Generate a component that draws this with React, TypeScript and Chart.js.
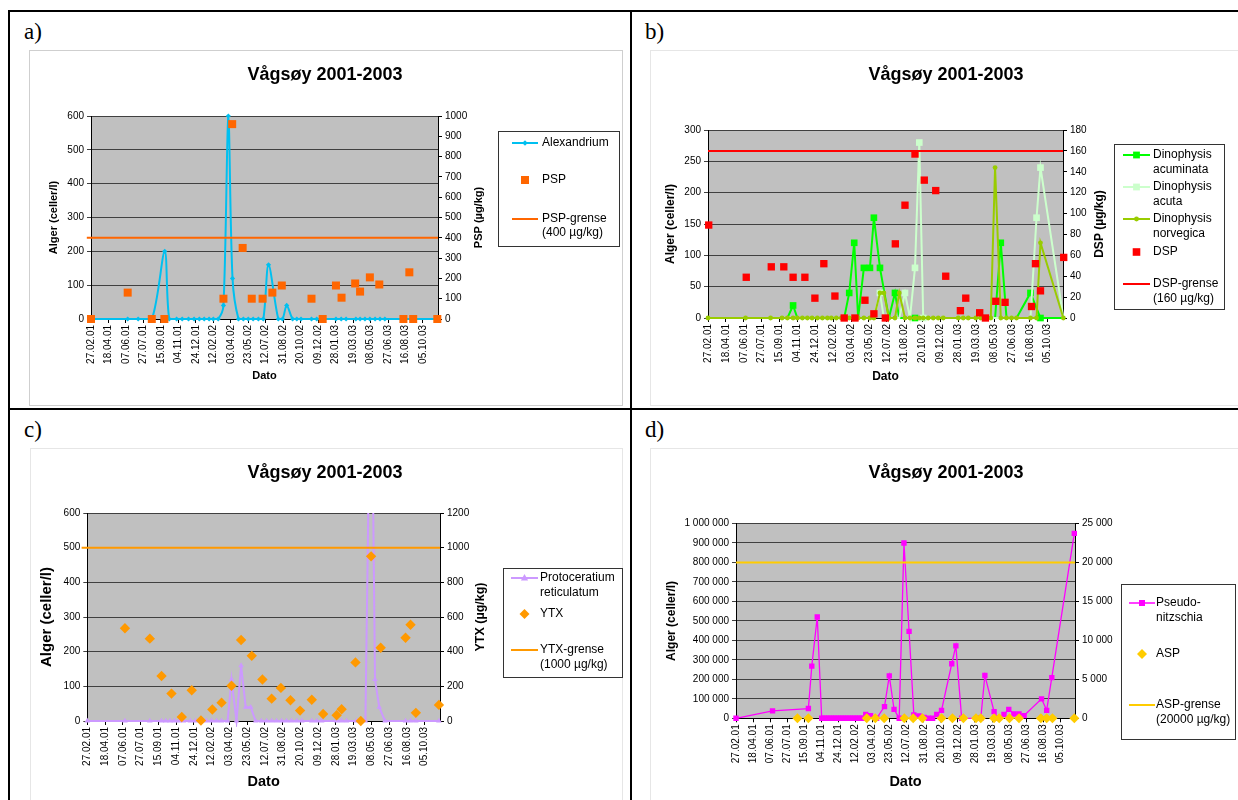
import React, { useEffect, useRef } from 'react';
import { Chart, registerables } from 'chart.js';

Chart.register(...registerables);

const SANS = '"Liberation Sans", Arial, Helvetica, sans-serif';
const SERIF = '"Liberation Serif", "Times New Roman", serif';
Chart.defaults.font.family = SANS;
Chart.defaults.color = '#000';

// ---------- shared text / axis data ----------
const chartTitle = 'Vågsøy 2001-2003';
const algaeAxisTitle = 'Alger (celler/l)';
const dateAxisTitle = 'Dato';
const dateLabels = [
  '27.02.01', '18.04.01', '07.06.01', '27.07.01', '15.09.01', '04.11.01', '24.12.01',
  '12.02.02', '03.04.02', '23.05.02', '12.07.02', '31.08.02', '20.10.02', '09.12.02',
  '28.01.03', '19.03.03', '08.05.03', '27.06.03', '16.08.03', '05.10.03',
];
const dayMax = 993; // days after 27.02.01
const dayStep = 50;

// ---------- panel a: Alexandrium / PSP ----------
const alexDays = [0, 105, 135, 174, 211, 224, 245, 261, 279, 295, 310, 324, 338, 350, 364, 379, 393, 405, 422, 436, 450, 464, 479, 493, 508, 536, 548, 560, 577, 589, 601, 631, 646, 660, 701, 716, 730, 758, 770, 784, 798, 813, 827, 841, 901, 916, 927, 989];
const alexValues = [0, 0, 0, 0, 200, 0, 0, 0, 0, 0, 0, 0, 0, 0, 0, 40, 600, 120, 0, 0, 0, 0, 0, 0, 160, 0, 0, 40, 0, 0, 0, 0, 0, 0, 0, 0, 0, 0, 0, 0, 0, 0, 0, 0, 0, 0, 0, 0];
const pspDays = [0, 105, 174, 210, 379, 404, 434, 460, 491, 519, 546, 631, 663, 701, 717, 756, 770, 798, 825, 894, 911, 922, 991];
const pspValues = [0, 130, 0, 0, 100, 960, 350, 100, 100, 130, 165, 100, 0, 165, 105, 175, 135, 205, 170, 0, 230, 0, 0];
const pspLimit = 400;

// ---------- panel b: Dinophysis / DSP ----------
const dinoDays = [0, 105, 175, 207, 222, 238, 250, 264, 278, 291, 306, 320, 334, 345, 359, 373, 381, 395, 409, 420, 436, 453, 464, 481, 492, 506, 523, 535, 551, 565, 579, 591, 602, 616, 630, 644, 658, 700, 714, 728, 749, 763, 777, 791, 803, 819, 835, 849, 863, 902, 919, 930, 994];
const acuminataValues = [0, 0, 0, 0, 0, 20, 0, 0, 0, 0, 0, 0, 0, 0, 0, 0, 0, 40, 120, 0, 80, 80, 160, 80, null, 0, 40, 0, 0, 0, 0, 0, 0, 0, 0, 0, 0, 0, 0, 0, 0, 0, 0, 0, 0, 120, 0, 0, 0, 40, null, 0, 0];
const acutaValues = [0, 0, 0, 0, 0, 0, 0, 0, 0, 0, 0, 0, 0, 0, 0, 0, 0, 0, 0, 0, 0, 0, 0, 40, 0, 0, 0, 0, 40, 0, 80, 280, 0, 0, 0, 0, 0, 0, 0, 0, 0, 0, 0, 0, 0, 0, 0, 0, 0, 0, 160, 240, 0];
const norvegicaValues = [0, 0, 0, 0, 0, 0, 0, 0, 0, 0, 0, 0, 0, 0, 0, 0, 0, 0, 0, 0, 0, 0, 0, 40, 40, 0, 0, 40, 0, 0, 0, 0, 0, 0, 0, 0, 0, 0, 0, 0, 0, 0, 0, 0, 240, 0, 0, 0, 0, 0, 0, 120, 0];
const acuminataZeroMarked = [579, 930];
const acutaZeroMarked = [602];
const dspDays = [2, 107, 177, 212, 238, 271, 299, 324, 355, 381, 411, 439, 464, 496, 524, 551, 579, 605, 637, 665, 706, 721, 760, 776, 805, 831, 905, 916, 930, 995];
const dspValues = [89, 39, 49, 49, 39, 39, 19, 52, 21, 0, 0, 17, 4, 0, 71, 108, 157, 132, 122, 40, 7, 19, 5, 0, 16, 15, 11, 52, 26, 58];
const dspLimit = 160;

// ---------- panel c: Protoceratium / YTX ----------
const protoDays = [0, 106, 176, 209, 221, 233, 245, 258, 271, 290, 305, 320, 335, 350, 364, 378, 395, 406, 420, 433, 446, 460, 474, 490, 505, 519, 533, 547, 561, 575, 590, 604, 632, 646, 660, 702, 716, 730, 758, 770, 783, 799, 810, 822, 838, 896, 910, 925, 990];
const protoValues = [0, 0, 0, 0, 0, 0, 0, 0, 0, 0, 0, 0, 0, 0, 0, 0, 0, 120, 0, 160, 40, 40, 0, 0, 0, 0, 0, 0, 0, 0, 0, 0, 0, 0, 0, 0, 0, 0, 0, 0, 0, 1200, 120, 40, 0, 0, 0, 0, 0];
const ytxDays = [106, 176, 209, 237, 266, 294, 320, 352, 378, 406, 433, 463, 493, 519, 545, 572, 599, 632, 664, 702, 716, 755, 770, 799, 826, 896, 910, 925, 990];
const ytxValues = [535, 475, 260, 158, 23, 177, 3, 66, 106, 203, 467, 376, 239, 129, 191, 120, 60, 123, 40, 33, 68, 338, 0, 950, 423, 480, 555, 47, 93];
const ytxLimit = 1000;

// ---------- panel d: Pseudo-nitzschia / ASP ----------
const pnDays = [0, 107, 212, 222, 238, 251, 258, 265, 272, 279, 286, 293, 300, 307, 314, 321, 328, 335, 342, 349, 356, 363, 370, 380, 394, 412, 435, 449, 463, 478, 492, 507, 521, 536, 551, 563, 576, 588, 602, 632, 644, 661, 705, 717, 729, 756, 768, 785, 799, 814, 829, 844, 895, 910, 925, 991];
const pnValues = [0, 38000, 50000, 268000, 520000, 0, 0, 0, 0, 0, 0, 0, 0, 0, 0, 0, 0, 0, 0, 0, 0, 0, 0, 20000, 14000, 0, 60000, 218000, 46000, 0, 900000, 446000, 17000, 12000, 5000, 0, 0, 20000, 41000, 280000, 372000, 0, 0, 0, 220000, 34000, 0, 20000, 46000, 22000, 22000, 14000, 100000, 41000, 209000, 949000];
const aspDays = [180, 212, 383, 408, 434, 493, 519, 546, 602, 634, 666, 703, 717, 756, 771, 801, 829, 893, 910, 927, 991];
const aspValues = [0, 0, 0, 0, 0, 0, 0, 0, 0, 0, 0, 0, 0, 0, 0, 0, 0, 0, 0, 0, 0];
const aspLimit = 20000;

// ---------- styling ----------
const PLOT_BG = '#C0C0C0';
const GRID = '#404040';
const C_ALEX = '#00C0F0';
const C_PSP = '#FF6600';
const C_ACUM = '#00FF00';
const C_ACUTA = '#CCFFCC';
const C_NORV = '#99CC00';
const C_DSP = '#FF0000';
const C_PROTO = '#CC99FF';
const C_YTX = '#FF9900';
const C_PN = '#FF00FF';
const C_ASP = '#FFCC00';

type Pt = { x: number; y: number | null };
const pts = (days: number[], vals: (number | null)[]): Pt[] => days.map((d, i) => ({ x: d, y: vals[i] }));
const flat = (x0: number, x1: number, y: number): Pt[] => [{ x: x0, y }, { x: x1, y }];
const spaced = (v: number) => String(Math.round(v)).replace(/\B(?=(\d{3})+(?!\d))/g, ' ');
const plain = (v: number) => String(Math.round(v));
const dateTick = (v: number) => {
  const i = Math.round(v / dayStep);
  return Math.abs(v - i * dayStep) < 1e-6 && i >= 0 && i < dateLabels.length ? dateLabels[i] : '';
};

// ---------- scales ----------
interface AxisGeo {
  yW: number; y1W: number; xH: number;
  leftSize: number; leftPad: number; xSize: number; xPad: number;
  yMax: number; yStep: number; y1Max: number; y1Step: number;
  spacedTicks?: boolean;
}

function makeScales(g: AxisGeo): any {
  const tickFont = { size: 10 };
  const fmt = g.spacedTicks ? spaced : plain;
  return {
    x: {
      type: 'linear', min: 0, max: dayMax,
      afterFit: (s: any) => { s.height = g.xH; },
      grid: { drawOnChartArea: false, drawTicks: true, tickLength: 4, color: '#000' },
      border: { display: true, color: '#000' },
      ticks: {
        stepSize: dayStep, includeBounds: false, autoSkip: false, maxTicksLimit: 100,
        minRotation: 90, maxRotation: 90, padding: 2, font: tickFont, color: '#000',
        callback: (v: any) => dateTick(Number(v)),
      },
      title: {
        display: true, text: dateAxisTitle, color: '#000',
        font: { size: g.xSize, weight: 'bold' }, padding: { top: 0, bottom: g.xPad },
      },
    },
    y: {
      type: 'linear', position: 'left', min: 0, max: g.yMax,
      afterFit: (s: any) => { s.width = g.yW; },
      grid: { color: GRID, tickLength: 4, drawTicks: true },
      border: { display: true, color: '#000' },
      ticks: { stepSize: g.yStep, padding: 3, font: tickFont, color: '#000', maxTicksLimit: 100, callback: (v: any) => fmt(Number(v)) },
      title: {
        display: true, text: algaeAxisTitle, color: '#000',
        font: { size: g.leftSize, weight: 'bold' }, padding: { top: g.leftPad, bottom: 0 },
      },
    },
    y1: {
      type: 'linear', position: 'right', min: 0, max: g.y1Max,
      afterFit: (s: any) => { s.width = g.y1W; },
      grid: { drawOnChartArea: false, drawTicks: true, tickLength: 4, color: '#000' },
      border: { display: true, color: '#000' },
      ticks: { stepSize: g.y1Step, padding: 3, font: tickFont, color: '#000', maxTicksLimit: 100, callback: (v: any) => fmt(Number(v)) },
    },
  };
}

function baseOptions(padding: any, scales: any): any {
  return {
    responsive: false,
    animation: false,
    events: [],
    layout: { padding },
    plugins: { legend: { display: false }, tooltip: { enabled: false }, title: { display: false } },
    scales,
  };
}

// ---------- decoration plugin: plot background, title, right axis title, legend ----------
type MarkerKind = 'rect' | 'rectRot' | 'circle' | 'triangle';
interface LegendEntry { color: string; line?: boolean; lineWidth?: number; marker?: MarkerKind; size?: number; y: number; text: string[] }
interface Decor {
  titleX: number; titleY: number;
  rightTitle?: { text: string; x: number; y: number; size: number };
  box: { x: number; y: number; w: number; h: number };
  lineX0: number; lineX1: number; markX: number; textX: number; lineGap: number;
  entries: LegendEntry[];
}

function drawMarker(ctx: CanvasRenderingContext2D, m: MarkerKind, x: number, y: number, r: number, color: string) {
  ctx.fillStyle = color;
  ctx.beginPath();
  if (m === 'rect') ctx.rect(x - r, y - r, 2 * r, 2 * r);
  else if (m === 'rectRot') { ctx.moveTo(x, y - r); ctx.lineTo(x + r, y); ctx.lineTo(x, y + r); ctx.lineTo(x - r, y); ctx.closePath(); }
  else if (m === 'circle') ctx.arc(x, y, r, 0, Math.PI * 2);
  else { ctx.moveTo(x, y - r); ctx.lineTo(x + r * 0.9, y + r * 0.6); ctx.lineTo(x - r * 0.9, y + r * 0.6); ctx.closePath(); }
  ctx.fill();
}

function decorPlugin(d: Decor): any {
  return {
    id: 'decor',
    beforeDraw(chart: any) {
      const { ctx, chartArea: a } = chart;
      ctx.save();
      ctx.fillStyle = PLOT_BG;
      ctx.fillRect(a.left, a.top, a.right - a.left, a.bottom - a.top);
      ctx.restore();
    },
    afterDraw(chart: any) {
      const ctx: CanvasRenderingContext2D = chart.ctx;
      ctx.save();
      ctx.fillStyle = '#000';
      ctx.font = `bold 18px ${SANS}`;
      ctx.textAlign = 'center';
      ctx.textBaseline = 'middle';
      ctx.fillText(chartTitle, d.titleX, d.titleY);
      if (d.rightTitle) {
        const r = d.rightTitle;
        ctx.save();
        ctx.translate(r.x, r.y);
        ctx.rotate(-Math.PI / 2);
        ctx.font = `bold ${r.size}px ${SANS}`;
        ctx.fillText(r.text, 0, 0);
        ctx.restore();
      }
      const b = d.box;
      ctx.fillStyle = '#fff';
      ctx.fillRect(b.x, b.y, b.w, b.h);
      ctx.strokeStyle = '#333';
      ctx.lineWidth = 1;
      ctx.strokeRect(Math.round(b.x) + 0.5, Math.round(b.y) + 0.5, Math.round(b.w), Math.round(b.h));
      ctx.font = `12px ${SANS}`;
      ctx.textAlign = 'left';
      ctx.textBaseline = 'middle';
      for (const e of d.entries) {
        if (e.line) {
          ctx.strokeStyle = e.color;
          ctx.lineWidth = e.lineWidth ?? 2;
          ctx.beginPath();
          ctx.moveTo(d.lineX0, e.y);
          ctx.lineTo(d.lineX1, e.y);
          ctx.stroke();
        }
        if (e.marker) drawMarker(ctx, e.marker, d.markX, e.y, e.size ?? 4, e.color);
        ctx.fillStyle = '#000';
        e.text.forEach((t, i) => ctx.fillText(t, d.textX, e.y + i * d.lineGap));
      }
      ctx.restore();
    },
  };
}

// ---------- chart builders ----------
const buildA = (): any => ({
  type: 'line',
  data: {
    datasets: [
      { label: 'Alexandrium', data: pts(alexDays, alexValues), yAxisID: 'y', borderColor: C_ALEX, backgroundColor: C_ALEX, borderWidth: 2, tension: 0.3, pointStyle: 'rectRot', pointRadius: 2.6, pointBorderWidth: 0, pointBackgroundColor: C_ALEX, order: 3, clip: 6 },
      { label: 'PSP', data: pts(pspDays, pspValues), yAxisID: 'y1', showLine: false, pointStyle: 'rect', pointRadius: 5.66, pointBorderWidth: 0, pointBackgroundColor: C_PSP, borderColor: C_PSP, backgroundColor: C_PSP, order: 2, clip: false },
      { label: 'PSP-grense', data: flat(-12, dayMax, pspLimit), yAxisID: 'y1', borderColor: C_PSP, borderWidth: 2, pointRadius: 0, order: 1, clip: false },
    ],
  },
  options: baseOptions({ left: 0, top: 66, right: 125, bottom: 21 }, makeScales({
    yW: 62, y1W: 60, xH: 65, leftSize: 11, leftPad: 18.4, xSize: 11, xPad: 1.4,
    yMax: 600, yStep: 100, y1Max: 1000, y1Step: 100,
  })),
  plugins: [decorPlugin({
    titleX: 296, titleY: 25,
    rightTitle: { text: 'PSP (µg/kg)', x: 450, y: 167.5, size: 11 },
    box: { x: 469, y: 81, w: 121, h: 115 },
    lineX0: 483, lineX1: 509, markX: 496, textX: 513, lineGap: 13.5,
    entries: [
      { color: C_ALEX, line: true, marker: 'rectRot', size: 2.8, y: 93, text: ['Alexandrium'] },
      { color: C_PSP, marker: 'rect', size: 4, y: 130, text: ['PSP'] },
      { color: C_PSP, line: true, y: 169, text: ['PSP-grense', '(400 µg/kg)'] },
    ],
  })],
});

const buildB = (): any => ({
  type: 'line',
  data: {
    datasets: [
      { label: 'Dinophysis acuminata', data: pts(dinoDays, acuminataValues), yAxisID: 'y', borderColor: C_ACUM, backgroundColor: C_ACUM, borderWidth: 2, spanGaps: true, pointStyle: 'rect', pointRadius: dinoDays.map((d, i) => ((acuminataValues[i] ?? 0) > 0 || acuminataZeroMarked.includes(d) ? 4.7 : 0)), pointBorderWidth: 0, pointBackgroundColor: C_ACUM, order: 5, clip: 6 },
      { label: 'Dinophysis acuta', data: pts(dinoDays, acutaValues), yAxisID: 'y', borderColor: C_ACUTA, backgroundColor: C_ACUTA, borderWidth: 2, spanGaps: true, pointStyle: 'rect', pointRadius: dinoDays.map((d, i) => ((acutaValues[i] ?? 0) > 0 || acutaZeroMarked.includes(d) ? 4.7 : 0)), pointBorderWidth: 0, pointBackgroundColor: C_ACUTA, order: 4, clip: 6 },
      { label: 'Dinophysis norvegica', data: pts(dinoDays, norvegicaValues), yAxisID: 'y', borderColor: C_NORV, backgroundColor: C_NORV, borderWidth: 2, spanGaps: true, pointStyle: 'circle', pointRadius: 2.4, pointBorderWidth: 0, pointBackgroundColor: C_NORV, order: 3, clip: 6 },
      { label: 'DSP', data: pts(dspDays, dspValues), yAxisID: 'y1', showLine: false, pointStyle: 'rect', pointRadius: 5.2, pointBorderWidth: 0, pointBackgroundColor: C_DSP, borderColor: C_DSP, backgroundColor: C_DSP, order: 2, clip: false },
      { label: 'DSP-grense', data: flat(0, dayMax, dspLimit), yAxisID: 'y1', borderColor: C_DSP, borderWidth: 2, pointRadius: 0, order: 1, clip: false },
    ],
  },
  options: baseOptions({ left: 0, top: 80, right: 125, bottom: 19 }, makeScales({
    yW: 58, y1W: 50, xH: 68, leftSize: 12, leftPad: 13.8, xSize: 12, xPad: 1.8,
    yMax: 300, yStep: 50, y1Max: 180, y1Step: 20,
  })),
  plugins: [decorPlugin({
    titleX: 296, titleY: 25,
    rightTitle: { text: 'DSP (µg/kg)', x: 450, y: 174, size: 12 },
    box: { x: 463.5, y: 94, w: 109.5, h: 165 },
    lineX0: 473, lineX1: 500, markX: 486.5, textX: 503, lineGap: 14.5,
    entries: [
      { color: C_ACUM, line: true, marker: 'rect', size: 3.4, y: 105, text: ['Dinophysis', 'acuminata'] },
      { color: C_ACUTA, line: true, marker: 'rect', size: 3.4, y: 137, text: ['Dinophysis', 'acuta'] },
      { color: C_NORV, line: true, marker: 'circle', size: 2.4, y: 169, text: ['Dinophysis', 'norvegica'] },
      { color: C_DSP, marker: 'rect', size: 3.8, y: 202, text: ['DSP'] },
      { color: C_DSP, line: true, y: 234, text: ['DSP-grense', '(160 µg/kg)'] },
    ],
  })],
});

const buildC = (): any => ({
  type: 'line',
  data: {
    datasets: [
      { label: 'Protoceratium reticulatum', data: pts(protoDays, protoValues), yAxisID: 'y', borderColor: C_PROTO, backgroundColor: C_PROTO, borderWidth: 2, pointStyle: 'triangle', pointRadius: 3.2, pointBorderWidth: 0, pointBackgroundColor: C_PROTO, order: 3, clip: { left: 6, right: 6, top: 0, bottom: 6 } },
      { label: 'YTX', data: pts(ytxDays, ytxValues), yAxisID: 'y1', showLine: false, pointStyle: 'rectRot', pointRadius: 5.2, pointBorderWidth: 0, pointBackgroundColor: C_YTX, borderColor: C_YTX, backgroundColor: C_YTX, order: 2, clip: false },
      { label: 'YTX-grense', data: flat(-16, dayMax, ytxLimit), yAxisID: 'y1', borderColor: C_YTX, borderWidth: 2, pointRadius: 0, order: 1, clip: false },
    ],
  },
  options: baseOptions({ left: 0, top: 65, right: 120, bottom: 9 }, makeScales({
    yW: 57.3, y1W: 63, xH: 70, leftSize: 15, leftPad: 8, xSize: 14.5, xPad: 0,
    yMax: 600, yStep: 100, y1Max: 1200, y1Step: 200,
  })),
  plugins: [decorPlugin({
    titleX: 295, titleY: 25,
    rightTitle: { text: 'YTX (µg/kg)', x: 451, y: 169, size: 12.5 },
    box: { x: 473, y: 120, w: 118.5, h: 109 },
    lineX0: 481, lineX1: 508, markX: 494.5, textX: 510, lineGap: 15,
    entries: [
      { color: C_PROTO, line: true, marker: 'triangle', size: 4, y: 130, text: ['Protoceratium', 'reticulatum'] },
      { color: C_YTX, marker: 'rectRot', size: 5, y: 166, text: ['YTX'] },
      { color: C_YTX, line: true, y: 202, text: ['YTX-grense', '(1000 µg/kg)'] },
    ],
  })],
});

const buildD = (): any => ({
  type: 'line',
  data: {
    datasets: [
      { label: 'Pseudo-nitzschia', data: pts(pnDays, pnValues), yAxisID: 'y', borderColor: C_PN, backgroundColor: C_PN, borderWidth: 1.3, pointStyle: 'rect', pointRadius: 3.8, pointBorderWidth: 0, pointBackgroundColor: C_PN, order: 3, clip: 6 },
      { label: 'ASP', data: pts(aspDays, aspValues), yAxisID: 'y1', showLine: false, pointStyle: 'rectRot', pointRadius: 5, pointBorderWidth: 0, pointBackgroundColor: C_ASP, borderColor: C_ASP, backgroundColor: C_ASP, order: 2, clip: false },
      { label: 'ASP-grense', data: flat(0, dayMax, aspLimit), yAxisID: 'y1', borderColor: C_ASP, borderWidth: 2, pointRadius: 0, order: 1, clip: false },
    ],
  },
  options: baseOptions({ left: 0, top: 75.5, right: 117, bottom: 9.7 }, makeScales({
    yW: 86, y1W: 46, xH: 72, leftSize: 12, leftPad: 14.8, xSize: 14.5, xPad: 0,
    yMax: 1000000, yStep: 100000, y1Max: 25000, y1Step: 5000, spacedTicks: true,
  })),
  plugins: [decorPlugin({
    titleX: 296, titleY: 25,
    box: { x: 471, y: 136, w: 114, h: 155 },
    lineX0: 479, lineX1: 505, markX: 492, textX: 506, lineGap: 14.5,
    entries: [
      { color: C_PN, line: true, lineWidth: 1.5, marker: 'rect', size: 3, y: 155, text: ['Pseudo-', 'nitzschia'] },
      { color: C_ASP, marker: 'rectRot', size: 5, y: 206, text: ['ASP'] },
      { color: C_ASP, line: true, y: 257, text: ['ASP-grense', '(20000 µg/kg)'] },
    ],
  })],
});

// ---------- components ----------
function ChartCanvas(props: { left: number; top: number; width: number; height: number; build: () => any }) {
  const ref = useRef<HTMLCanvasElement>(null);
  useEffect(() => {
    const chart = new Chart(ref.current as HTMLCanvasElement, props.build());
    return () => chart.destroy();
  }, []);
  return (
    <canvas
      ref={ref}
      width={props.width}
      height={props.height}
      style={{ position: 'absolute', left: props.left, top: props.top, width: props.width, height: props.height }}
    />
  );
}

function Box(props: { left: number; top: number; width: number; height: number; border: string }) {
  return (
    <div style={{
      position: 'absolute', left: props.left, top: props.top, width: props.width, height: props.height,
      border: `1px solid ${props.border}`, boxSizing: 'border-box', background: '#fff',
    }} />
  );
}

function PanelLabel(props: { left: number; top: number; text: string }) {
  return (
    <div style={{
      position: 'absolute', left: props.left, top: props.top, fontFamily: SERIF, fontSize: 23,
      lineHeight: 1, color: '#000',
    }}>{props.text}</div>
  );
}

function Rule(props: { left: number; top: number; width: number; height: number }) {
  return <div style={{ position: 'absolute', left: props.left, top: props.top, width: props.width, height: props.height, background: '#000' }} />;
}

export default function App() {
  return (
    <div style={{ position: 'absolute', left: 0, top: 0, width: 1238, height: 800, overflow: 'hidden', background: '#fff' }}>
      <Box left={29} top={50} width={594} height={356} border="#cfcfcf" />
      <Box left={650} top={50} width={600} height={356} border="#e6e6e6" />
      <Box left={30} top={448} width={593} height={400} border="#e6e6e6" />
      <Box left={650} top={448} width={600} height={400} border="#e6e6e6" />

      <ChartCanvas left={29} top={50} width={594} height={355} build={buildA} />
      <ChartCanvas left={650} top={50} width={588} height={355} build={buildB} />
      <ChartCanvas left={30} top={448} width={593} height={352} build={buildC} />
      <ChartCanvas left={650} top={448} width={588} height={352} build={buildD} />

      <Rule left={8} top={10} width={1230} height={2} />
      <Rule left={8} top={10} width={2} height={790} />
      <Rule left={630} top={10} width={2} height={790} />
      <Rule left={8} top={408} width={1230} height={2} />

      <PanelLabel left={24} top={20} text="a)" />
      <PanelLabel left={645} top={20} text="b)" />
      <PanelLabel left={24} top={418} text="c)" />
      <PanelLabel left={645} top={418} text="d)" />
    </div>
  );
}
